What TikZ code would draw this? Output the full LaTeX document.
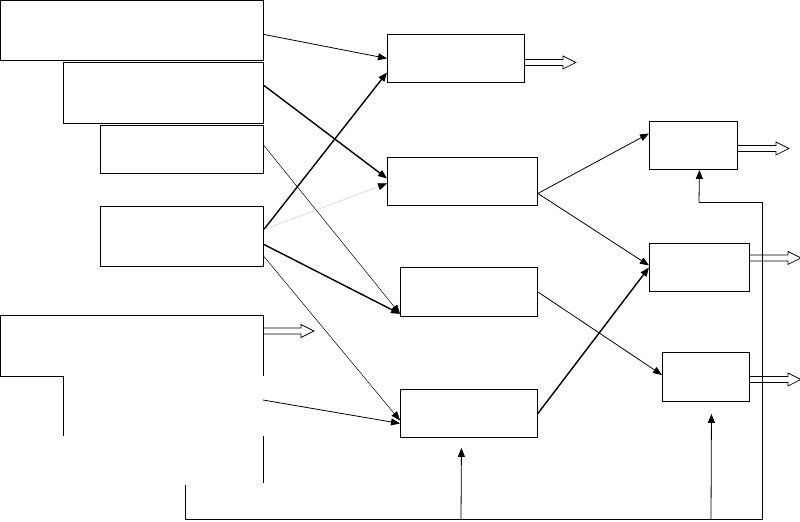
\documentclass[tikz,border=0pt]{standalone}
\usepackage{tikz}
\usetikzlibrary{arrows.meta}

\tikzset{
	box/.style={draw, line width=0.9bp, inner sep=0pt, anchor=north west},
	feed/.style={-{Triangle[length=9bp, width=7bp]}, line width=0.8bp},
	heavy/.style={feed, line width=1.4bp},
	faint/.style={feed, line width=0.5bp},
	ghost/.style={-{Triangle[length=9bp, width=7bp, color=black]}, line width=0.5bp, draw=gray!40},
	outflow/.pic={\draw[line width=0.7bp] (0,-3) -- (38,-3) -- (38,-6.5) -- (51,0) -- (38,6.5) -- (38,3) -- (0,3);}
}

\begin{document}
\begin{tikzpicture}[x=1bp, y=-1bp]
			\useasboundingbox (0,0) rectangle (800,522);
			\node[box, minimum width=263bp, minimum height=60bp] (lone) at (0,0) {};
			\node[box, minimum width=200bp, minimum height=61bp] (ltwo) at (63,62) {};
			\node[box, minimum width=163bp, minimum height=48bp] (lthree) at (100,125) {};
			\node[box, minimum width=163bp, minimum height=60bp] (lfour) at (100,206) {};
			\draw[line width=0.9bp] (263,376) -- (263,315) -- (0,315) -- (0,376) -- (63,376) -- (63,436);
			\draw[line width=0.9bp] (263,436) -- (263,483);
			\coordinate (lfive) at (263,400);
			\node[box, minimum width=137bp, minimum height=48bp] (mone) at (387,34) {};
			\node[box, minimum width=150bp, minimum height=48bp] (mtwo) at (387,157) {};
			\node[box, minimum width=137bp, minimum height=49bp] (mthree) at (400,267) {};
			\node[box, minimum width=137bp, minimum height=48bp] (mfour) at (400,389) {};
			\node[box, minimum width=88bp, minimum height=48bp] (rone) at (649,121) {};
			\node[box, minimum width=100bp, minimum height=48bp] (rtwo) at (649,243) {};
			\node[box, minimum width=87bp, minimum height=49bp] (rthree) at (662,352) {};
			\draw[feed] ([yshift=-4bp]lone.east) -- (mone.west);
			\draw[heavy] ([yshift=7.5bp]ltwo.east) -- ([yshift=3bp]mtwo.west);
			\draw[faint] ([yshift=4bp]lthree.east) -- ([yshift=3bp]mthree.south west);
			\draw[heavy] ([yshift=7bp]lfour.east) -- ([yshift=-14bp]mone.west);
			\draw[ghost] ([yshift=7bp]lfour.east) -- ([yshift=-2bp]mtwo.west);
			\draw[heavy] ([yshift=-8bp]lfour.east) -- ([yshift=3bp]mthree.south west);
			\draw[faint] ([yshift=-20bp]lfour.east) -- ([yshift=-7bp]mfour.west);
			\draw[feed] (lfive) -- ([yshift=-10bp]mfour.west);
			\draw[feed] ([yshift=-12bp]mtwo.east) -- ([yshift=12bp]rone.west);
			\draw[feed] ([yshift=-12bp]mtwo.east) -- ([yshift=2bp]rtwo.west);
			\draw[feed] (mthree.east) -- ([yshift=2bp]rthree.west);
			\draw[heavy] (mfour.east) -- (rtwo.west);
			\pic at (263,331) {outflow};
			\pic at ([yshift=-4bp]mone.east) {outflow};
			\pic at ([yshift=-3bp]rone.east) {outflow};
			\pic at ([yshift=9.5bp]rtwo.east) {outflow};
			\pic at ([yshift=-2.5bp]rthree.east) {outflow};
			\coordinate (busa) at (185,485);
			\coordinate (busb) at (185,519);
			\coordinate (busc) at (762,519);
			\coordinate (busd) at (762,202);
			\coordinate (buse) at (699,202);
			\coordinate (tapm) at (461,519);
			\coordinate (tapr) at (711,519);
			\draw[line width=0.9bp] (busa) -- (busb) -- (busc) -- (busd) -- (buse);
			\draw[feed] (buse) -- ([xshift=6bp]rone.south);
			\draw[feed] (tapm) -- ([xshift=-7.5bp, yshift=-10bp]mfour.south);
			\draw[feed] (tapr) -- ([xshift=5.5bp, yshift=-12bp]rthree.south);
		\end{tikzpicture}
\end{document}
